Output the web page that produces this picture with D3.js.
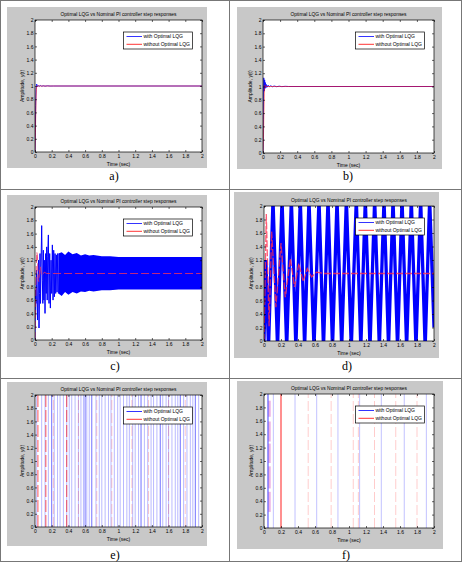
<!DOCTYPE html>
<html>
<head>
<meta charset="utf-8">
<script src="https://cdn.jsdelivr.net/npm/d3@7"></script>
<style>
  html, body { margin: 0; padding: 0; background: #fff; }
  svg { display: block; }
  text { font-family: 'Liberation Sans', Arial, sans-serif; fill: #000; }
  .caption { font-family: 'Liberation Serif', 'Times New Roman', serif; font-size: 12px; }
</style>
</head>
<body>
<svg id="chart" width="462" height="562"></svg>
<script>
// ---- data ----
const titleText = 'Optimal LQG vs Nominal PI controller step responses'
const legendLabels = ['with Optimal LQG', 'without Optimal LQG']
const captions = ['a)', 'b)', 'c)', 'd)', 'e)', 'f)']
const xTicks = [0, 0.2, 0.4, 0.6, 0.8, 1, 1.2, 1.4, 1.6, 1.8, 2]
const yTicks = [0, 0.2, 0.4, 0.6, 0.8, 1, 1.2, 1.4, 1.6, 1.8, 2]

// a)
const aBlue = [[0, 0], [0.004, 0.3], [0.008, 0.7], [0.012, 0.95], [0.018, 1.03], [0.024, 1.02], [0.03, 0.99], [0.04, 1.005],
  [0.05, 0.995], [0.065, 1.008], [0.08, 0.996], [0.1, 1.004], [0.12, 0.997], [0.15, 1.003], [0.18, 0.999], [0.22, 1], [2, 1]]
const aRed = [[0, 0], [0.006, 0.35], [0.012, 0.8], [0.018, 0.98], [0.025, 1], [2, 1]]

// b)
const bBlue = [[0, 0], [0.003, 0.5], [0.006, 0.95], [0.009, 1.13], [0.012, 1.05], [0.015, 0.93], [0.019, 1.1], [0.023, 0.97],
  [0.028, 1.06], [0.034, 0.98], [0.04, 1.03], [0.05, 0.99], [0.06, 1.02], [0.075, 0.995], [0.09, 1.012], [0.11, 0.996],
  [0.13, 1.008], [0.16, 0.997], [0.19, 1.005], [0.22, 0.998], [0.26, 1.003], [0.3, 1], [2, 1]]
const bRed = [[0, 0], [0.005, 0.2], [0.01, 0.6], [0.015, 0.9], [0.02, 1.0], [0.025, 1.02], [0.035, 1], [2, 1]]

// c)
const cBlue = [[0, 0], [0.006, 0.75], [0.012, 0.55], [0.018, 1.05], [0.024, 0.6], [0.03, 0.3], [0.036, 0.9], [0.042, 1.2],
  [0.048, 0.18], [0.054, 0.7], [0.06, 1.3], [0.066, 0.55], [0.072, 1.1], [0.08, 1.72], [0.088, 0.9], [0.094, 0.55],
  [0.1, 1.35], [0.106, 0.6], [0.112, 1.2], [0.12, 0.4], [0.128, 1.3], [0.134, 0.7], [0.14, 1.4], [0.146, 0.6],
  [0.152, 1.25], [0.16, 1.58], [0.168, 0.55], [0.176, 1.3], [0.184, 0.48], [0.192, 1.2], [0.2, 0.7], [0.208, 1.43],
  [0.216, 0.6], [0.224, 1.35], [0.232, 0.65], [0.24, 1.3], [0.248, 0.7], [0.256, 1.28], [0.264, 0.72], [0.272, 1.3], [0.28, 0.7]]
const cBandTop = [[0.28, 1.3], [0.32, 1.32], [0.36, 1.28], [0.4, 1.33], [0.45, 1.29], [0.5, 1.31], [0.55, 1.27], [0.6, 1.29],
  [0.65, 1.27], [0.7, 1.28], [0.8, 1.26], [0.9, 1.26], [1.0, 1.25], [2, 1.25]]
const cBandBottom = [[0.28, 0.7], [0.32, 0.66], [0.36, 0.72], [0.4, 0.68], [0.45, 0.72], [0.5, 0.7], [0.55, 0.73], [0.6, 0.72],
  [0.65, 0.74], [0.7, 0.73], [0.8, 0.75], [0.9, 0.75], [1.0, 0.76], [2, 0.76]]
const cRed = [[0, 0], [0.008, 0.6], [0.015, 1.1], [0.022, 1.32], [0.03, 1.25], [0.038, 0.9], [0.045, 0.88], [0.055, 1.05],
  [0.065, 1.1], [0.075, 1.0], [0.09, 0.97], [0.11, 1.02], [0.14, 1.0], [2, 1]]

// d)
const dBlue = [[0, 0], [0.022, 1.2], [0.053, -0.1], [0.106, 2.1], [0.159, -0.1], [0.212, 2.1], [0.267, -0.1], [0.322, 2.1],
  [0.375, -0.1], [0.427, 2.1], [0.478, -0.1], [0.529, 2.1], [0.588, -0.1], [0.647, 2.1], [0.7, -0.1], [0.753, 2.1],
  [0.806, -0.1], [0.859, 2.1], [0.914, -0.1], [0.969, 2.1], [1.027, -0.1], [1.086, 2.1], [1.139, -0.1], [1.192, 2.1],
  [1.247, -0.1], [1.302, 2.1], [1.357, -0.1], [1.412, 2.1], [1.465, -0.1], [1.518, 2.1], [1.571, -0.1], [1.624, 2.1],
  [1.678, -0.1], [1.733, 2.1], [1.788, -0.1], [1.843, 2.1], [1.896, -0.1], [1.949, 2.1], [2.0, 0.2]]
const dRed = [[0, 0], [0.027, 1.88], [0.06, 0.22], [0.09, 1.62], [0.14, 0.5], [0.2, 1.45], [0.25, 0.65], [0.31, 1.22],
  [0.36, 0.8], [0.41, 1.15], [0.46, 0.88], [0.51, 1.07], [0.56, 0.95], [0.62, 1.02], [0.7, 1.0], [2, 1]]

// e) vertical traces (time of each line)
const eBlue = [0.02, 0.08, 0.12, 0.16, 0.23, 0.27, 0.3, 0.34, 0.38, 0.41, 0.44, 0.48, 0.52, 0.55, 0.58, 0.62, 0.65,
  0.73, 0.77, 0.8, 0.84, 0.88, 0.91, 0.95, 0.99, 1.02, 1.06, 1.1, 1.13, 1.17, 1.2, 1.24, 1.31, 1.35, 1.39, 1.42,
  1.46, 1.53, 1.57, 1.6, 1.64, 1.68, 1.71, 1.78, 1.82, 1.86, 1.89, 1.96]
const eBlueDark = [0.2, 0.6, 0.68, 1.27, 1.5, 1.74, 1.92]
const eRed = [0.035, 0.13, 0.38]
const eRedFaint = [0.22, 0.52, 0.74, 0.92, 1.16, 1.36, 1.6, 1.8]

// f) vertical traces
const fBlue = [0.11, 0.365, 0.62, 0.87, 1.125, 1.38, 1.65, 1.91]
const fBlueDark = [0.047]
const fRed = [0.2]
const fRedFaint = [0.52, 0.79, 1.05, 1.11, 1.3, 1.55, 1.8]
const fPinkSegments = [[0.065, 0.24, 0.54], [0.065, 0.59, 0.92], [0.065, 0.97, 1.26], [0.065, 1.29, 1.59], [0.065, 1.66, 1.9]]

// ---- layout ----
const BLUE = '#0000ff'
const RED = '#ff0000'

const panels = [
  { bg: [7, 7, 207, 168], ax: [35, 20, 202, 152], cap: [114, 180], draw: drawA },
  { bg: [237, 7, 442, 169], ax: [263, 20, 434, 153], cap: [348, 180], draw: drawB },
  { bg: [7, 195, 207, 357], ax: [35, 207, 202, 340], cap: [115, 370], draw: drawC },
  { bg: [234, 192, 439, 358], ax: [264, 206, 434, 341], cap: [347, 370], draw: drawD },
  { bg: [7, 382, 207, 546], ax: [35, 395, 202, 527], cap: [115, 559], draw: drawE },
  { bg: [237, 381, 443, 549], ax: [264, 394, 434, 528], cap: [346, 559], draw: drawF }
]

const svg = d3.select('#chart')

// table grid
svg.append('rect')
  .attr('x', 0.5).attr('y', 0.5).attr('width', 461).attr('height', 561)
  .attr('fill', 'none').attr('stroke', '#777')
svg.append('line').attr('x1', 229.5).attr('x2', 229.5).attr('y1', 0).attr('y2', 562).attr('stroke', '#777')
svg.append('line').attr('x1', 0).attr('x2', 462).attr('y1', 189.5).attr('y2', 189.5).attr('stroke', '#777')
svg.append('line').attr('x1', 0).attr('x2', 462).attr('y1', 378.5).attr('y2', 378.5).attr('stroke', '#777')

panels.forEach((p, i) => drawPanel(p, i))

function drawPanel (p, i) {
  const g = svg.append('g')
  const [x0, y0, x1, y1] = p.ax

  g.append('rect')
    .attr('x', p.bg[0]).attr('y', p.bg[1])
    .attr('width', p.bg[2] - p.bg[0]).attr('height', p.bg[3] - p.bg[1])
    .attr('fill', '#c8c8c8')

  g.append('rect')
    .attr('x', x0).attr('y', y0).attr('width', x1 - x0).attr('height', y1 - y0)
    .attr('fill', '#fff')

  const x = d3.scaleLinear().domain([0, 2]).range([x0, x1])
  const y = d3.scaleLinear().domain([0, 2]).range([y1, y0])

  const clipId = `clip-${i}`
  g.append('clipPath').attr('id', clipId)
    .append('rect').attr('x', x0).attr('y', y0).attr('width', x1 - x0).attr('height', y1 - y0)

  const plot = g.append('g').attr('clip-path', `url(#${clipId})`)
  p.draw(plot, x, y)

  const fmt = d => String(+d.toFixed(1))

  const bottom = g.append('g').attr('transform', `translate(0,${y1})`)
    .call(d3.axisBottom(x).tickValues(xTicks).tickSize(-2).tickPadding(2.5).tickFormat(fmt))
  const top = g.append('g').attr('transform', `translate(0,${y0})`)
    .call(d3.axisTop(x).tickValues(xTicks).tickSize(-2).tickFormat(''))
  const left = g.append('g').attr('transform', `translate(${x0},0)`)
    .call(d3.axisLeft(y).tickValues(yTicks).tickSize(-2).tickPadding(1.5).tickFormat(fmt))
  const right = g.append('g').attr('transform', `translate(${x1},0)`)
    .call(d3.axisRight(y).tickValues(yTicks).tickSize(-2).tickFormat(''))

  ;[bottom, top, left, right].forEach(a => {
    a.select('.domain').remove()
    a.selectAll('line').attr('stroke', '#000').attr('stroke-width', 0.6)
    a.selectAll('text').style('font-size', '5px').style('font-family', "'Liberation Sans', Arial, sans-serif")
  })

  g.append('rect')
    .attr('x', x0).attr('y', y0).attr('width', x1 - x0).attr('height', y1 - y0)
    .attr('fill', 'none').attr('stroke', '#000').attr('stroke-width', 0.7)

  // title + labels
  g.append('text')
    .attr('x', (x0 + x1) / 2).attr('y', y0 - 4)
    .attr('text-anchor', 'middle').style('font-size', '4.9px')
    .text(titleText)
  g.append('text')
    .attr('x', (x0 + x1) / 2).attr('y', y1 + 13.5)
    .attr('text-anchor', 'middle').style('font-size', '5px')
    .text('Time (sec)')
  g.append('text')
    .attr('transform', `translate(${x0 - 11.5},${(y0 + y1) / 2}) rotate(-90)`)
    .attr('text-anchor', 'middle').style('font-size', '5px')
    .text('Amplitude, y(t)')

  // legend
  const lw = 69
  const lh = 17
  const lx = x1 - 9.5 - lw
  const ly = y0 + 12
  const legend = g.append('g').attr('transform', `translate(${lx},${ly})`)
  legend.append('rect').attr('width', lw).attr('height', lh)
    .attr('fill', '#fff').attr('stroke', '#000').attr('stroke-width', 0.7)
  legendLabels.forEach((label, k) => {
    const yy = 4.5 + k * 7.8
    legend.append('line')
      .attr('x1', 3).attr('x2', 18.5).attr('y1', yy).attr('y2', yy)
      .attr('stroke', k === 0 ? BLUE : RED).attr('stroke-width', 0.8)
    legend.append('text')
      .attr('x', 20).attr('y', yy + 1.7).style('font-size', '5px')
      .text(label)
  })

  g.append('text').attr('class', 'caption')
    .attr('x', p.cap[0]).attr('y', p.cap[1])
    .attr('text-anchor', 'middle')
    .text(captions[i])
}

function lineOf (x, y) {
  return d3.line().x(d => x(d[0])).y(d => y(d[1]))
}

function drawA (g, x, y) {
  const line = lineOf(x, y)
  g.append('path').datum(aBlue).attr('d', line).attr('fill', 'none').attr('stroke', BLUE).attr('stroke-width', 0.8)
  g.append('path').datum(aRed).attr('d', line).attr('fill', 'none').attr('stroke', RED).attr('stroke-width', 0.8)
    .attr('stroke-opacity', 0.7)
}

function drawB (g, x, y) {
  const line = lineOf(x, y)
  g.append('path').datum(bBlue).attr('d', line).attr('fill', 'none').attr('stroke', BLUE).attr('stroke-width', 0.8)
  g.append('path').datum(bRed).attr('d', line).attr('fill', 'none').attr('stroke', RED).attr('stroke-width', 0.8)
    .attr('stroke-opacity', 0.7)
}

function drawC (g, x, y) {
  const line = lineOf(x, y)
  const band = d3.area()
    .x(d => x(d[0]))
    .y0((d, k) => y(cBandBottom[k][1]))
    .y1(d => y(d[1]))
  g.append('path').datum(cBandTop).attr('d', band).attr('fill', BLUE)
  g.append('path').datum(cBlue).attr('d', line).attr('fill', 'none').attr('stroke', BLUE).attr('stroke-width', 1)
  g.append('path').datum(cRed).attr('d', line).attr('fill', 'none').attr('stroke', '#f03060').attr('stroke-width', 1)
    .attr('stroke-dasharray', '8,3').attr('stroke-opacity', 0.8)
}

function drawD (g, x, y) {
  const line = lineOf(x, y)
  g.append('path').datum(dBlue).attr('d', line).attr('fill', 'none').attr('stroke', BLUE).attr('stroke-width', 3.3)
    .attr('stroke-linejoin', 'miter')
  g.append('path').datum(dRed).attr('d', line).attr('fill', 'none').attr('stroke', '#ff3050').attr('stroke-width', 1.3)
    .attr('stroke-dasharray', '7,2').attr('stroke-opacity', 0.8)
}

function verticals (g, x, y, times, color, width, opacity, dash) {
  g.selectAll(null).data(times).enter().append('line')
    .attr('x1', d => x(d)).attr('x2', d => x(d))
    .attr('y1', y(0)).attr('y2', y(2))
    .attr('stroke', color).attr('stroke-width', width).attr('stroke-opacity', opacity)
    .attr('stroke-dasharray', dash || null)
}

function drawE (g, x, y) {
  verticals(g, x, y, eBlue, BLUE, 0.7, 0.4)
  verticals(g, x, y, eBlueDark, BLUE, 0.8, 0.7)
  verticals(g, x, y, eRedFaint, RED, 0.8, 0.25, '10,3')
  verticals(g, x, y, eRed, RED, 1, 0.65, '12,3')
}

function drawF (g, x, y) {
  verticals(g, x, y, fBlue, BLUE, 0.7, 0.35)
  verticals(g, x, y, fRedFaint, RED, 0.8, 0.25, '10,3')
  g.selectAll(null).data(fPinkSegments).enter().append('line')
    .attr('x1', d => x(d[0])).attr('x2', d => x(d[0]))
    .attr('y1', d => y(d[1])).attr('y2', d => y(d[2]))
    .attr('stroke', '#e070d0').attr('stroke-width', 2.4).attr('stroke-opacity', 0.55)
  verticals(g, x, y, fBlueDark, BLUE, 0.9, 0.85)
  verticals(g, x, y, fRed, RED, 1.1, 0.8)
}
</script>
</body>
</html>
